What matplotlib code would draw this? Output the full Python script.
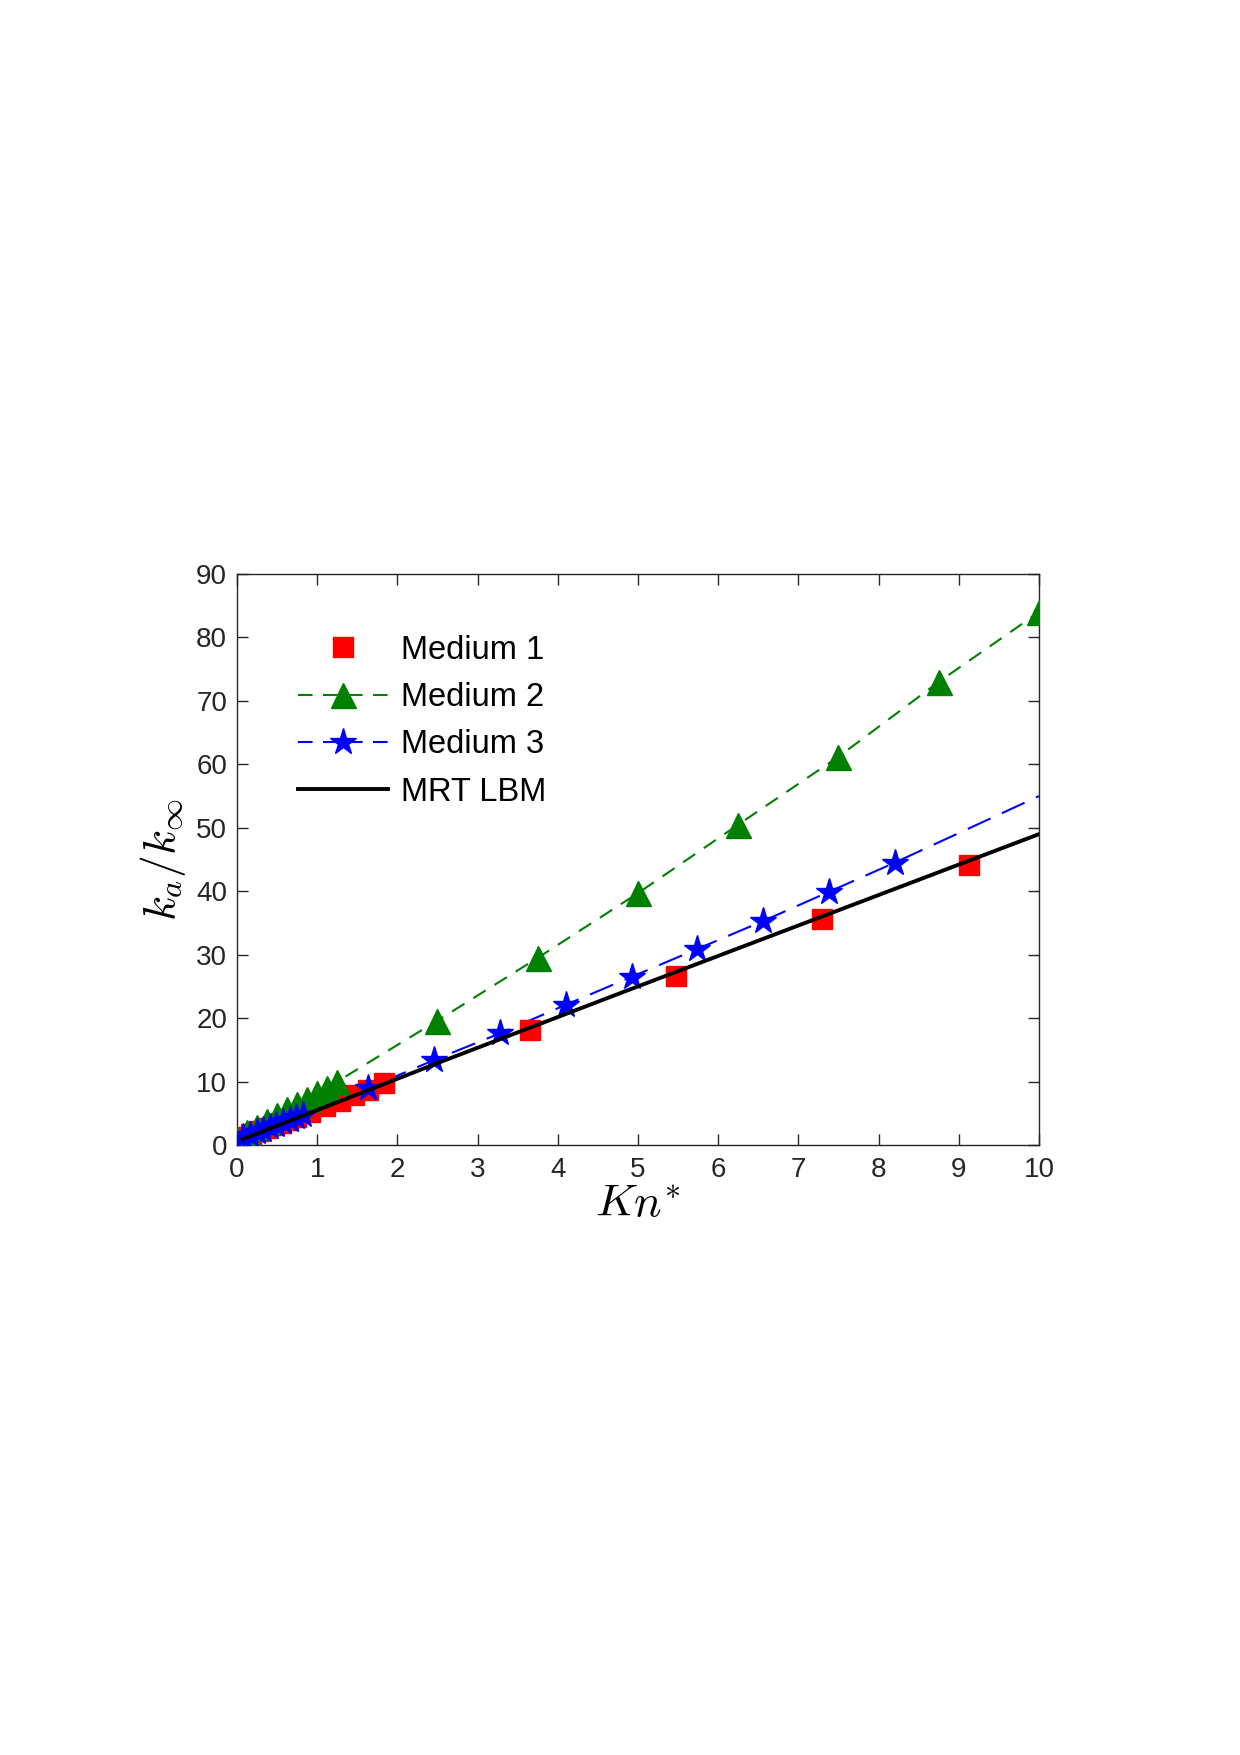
import matplotlib
matplotlib.use("Agg")
import matplotlib.pyplot as plt
from matplotlib.lines import Line2D

# ---- data ----
medium1_x = [0.02, 0.09, 0.18, 0.27, 0.37, 0.46, 0.55, 0.64, 0.73, 0.91, 1.10, 1.28, 1.46, 1.64, 1.83,
             3.65, 5.48, 7.30, 9.13]
medium1_y = [1.0, 1.3, 1.8, 2.2, 2.7, 3.1, 3.5, 4.0, 4.4, 5.2, 6.1, 7.0, 7.9, 8.7, 9.7,
             18.2, 26.6, 35.6, 44.1]

medium2_x = [0.0, 0.125, 0.25, 0.375, 0.5, 0.625, 0.75, 0.875, 1.0, 1.125, 1.25,
             2.5, 3.75, 5.0, 6.25, 7.5, 8.75, 10.0]
medium2_y = [1.0, 2.0, 2.9, 3.8, 4.7, 5.6, 6.4, 7.3, 8.2, 9.0, 10.0,
             19.6, 29.5, 39.7, 50.5, 61.2, 73.0, 84.0]

medium3_x = [0.08, 0.16, 0.25, 0.33, 0.41, 0.49, 0.57, 0.66, 0.74, 0.82,
             1.64, 2.46, 3.28, 4.10, 4.92, 5.74, 6.56, 7.38, 8.20]
medium3_y = [1.2, 1.6, 2.0, 2.4, 2.8, 3.2, 3.6, 4.0, 4.4, 4.8,
             9.0, 13.4, 17.6, 22.1, 26.5, 30.9, 35.3, 39.9, 44.5]
medium3_line_end_x = 10.0
medium3_line_end_y = 55.0

mrt_x = [0.07, 2.5, 5.0, 10.0]
mrt_y = [0.9, 12.9, 25.0, 49.0]

xticks = [0, 1, 2, 3, 4, 5, 6, 7, 8, 9, 10]
yticks = [0, 10, 20, 30, 40, 50, 60, 70, 80, 90]
labels = ["Medium 1", "Medium 2", "Medium 3", "MRT LBM"]

# ---- figure ----
plt.rcParams['font.family'] = ['Liberation Sans', 'DejaVu Sans']
plt.rcParams['mathtext.fontset'] = 'cm'

fig = plt.figure(figsize=(12.4, 17.55), dpi=100)
ax = fig.add_axes([0.1911, 0.3476, 0.6468, 0.3253])

green = '#008000'
blue = '#0000ff'
red = '#ff0000'

# lines
ax.plot(medium2_x, medium2_y, color=green, lw=1.5, dashes=(7, 5), zorder=2)
ax.plot(medium3_x + [medium3_line_end_x], medium3_y + [medium3_line_end_y],
        color=blue, lw=1.5, dashes=(12, 6), zorder=2)
ax.plot(mrt_x, mrt_y, color='black', lw=2.8, zorder=4)

# markers
ax.plot(medium1_x, medium1_y, ls='none', marker='s', ms=14, color=red,
        mec=red, zorder=3)
ax.plot(medium2_x, medium2_y, ls='none', marker='^', ms=18, color=green,
        mec=green, zorder=3)
ax.plot(medium3_x, medium3_y, ls='none', marker='*', ms=20, color=blue,
        mec=blue, zorder=3)

ax.set_xlim(0, 10)
ax.set_ylim(0, 90)
ax.set_xticks(xticks)
ax.set_yticks(yticks)
ax.tick_params(direction='in', length=8, width=1, top=True, right=True,
               labelsize=20, colors='#262626')
ax.tick_params(axis='x', pad=9)
ax.tick_params(axis='y', pad=7)
for s in ax.spines.values():
    s.set_linewidth(1.0)
    s.set_color('#262626')

ax.set_xlabel(r'$Kn^{*}$', fontsize=33, labelpad=0)
ax.set_ylabel(r'$k_a/k_\infty$', fontsize=33, labelpad=6)

handles = [
    Line2D([], [], ls='none', marker='s', ms=14, color=red, mec=red),
    Line2D([], [], color=green, lw=1.5, dashes=(7, 5), marker='^', ms=18, mec=green),
    Line2D([], [], color=blue, lw=1.5, dashes=(7, 5), marker='*', ms=20, mec=blue),
    Line2D([], [], color='black', lw=2.8),
]
ax.legend(handles, labels, loc='upper left', bbox_to_anchor=(0.04, 0.945),
          frameon=False, fontsize=23.5, handlelength=2.75, handletextpad=0.38,
          labelspacing=0.5)

fig.savefig('out.png', dpi=100)
